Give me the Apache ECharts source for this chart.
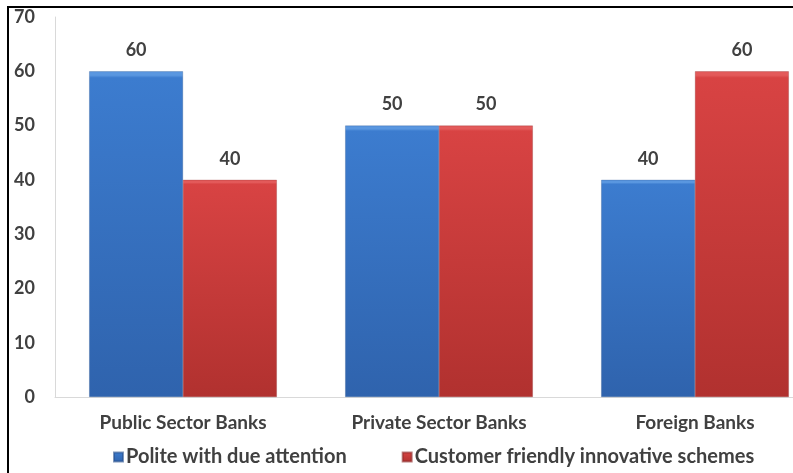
<!DOCTYPE html>
<html>
<head>
<meta charset="utf-8">
<script src="https://cdn.jsdelivr.net/npm/echarts@6/dist/echarts.min.js"></script>
<style>
html,body{margin:0;padding:0;background:#fff;overflow:hidden;width:793px;height:473px;}
#c{width:823px;height:473px;}
</style>
</head>
<body>
<div id="c"></div>
<script>
var categories = ["Public Sector Banks", "Private Sector Banks", "Foreign Banks"];
var seriesNames = ["Polite with due attention", "Customer friendly innovative schemes"];
var politeValues = [60, 50, 40];
var customerValues = [40, 50, 60];
var yTicks = [0, 10, 20, 30, 40, 50, 60, 70];

var chart = echarts.init(document.getElementById('c'), null, {renderer: 'canvas'});
var FONT = 'Lato';
var TXT = '#404040';
function grad(top, bottom) {
  return new echarts.graphic.LinearGradient(0, 0, 0, 1, [
    {offset: 0, color: top}, {offset: 0.012, color: top}, {offset: 0.02, color: bottom[0]}, {offset: 1, color: bottom[1]}
  ]);
}
var blue = grad('#5a97e0', ['#3c7ccf', '#2f63ad']);
var red = grad('#e35a5a', ['#d84343', '#b1312f']);
chart.setOption({
  backgroundColor: '#fff',
  animation: false,
  grid: {left: 55, right: 0, top: 17, bottom: 76, containLabel: false},
  xAxis: {
    type: 'category',
    data: categories,
    axisLine: {show: true, lineStyle: {color: '#d9d9d9', width: 1}},
    axisTick: {show: false},
    axisLabel: {color: TXT, fontFamily: FONT, fontWeight: 'bold', fontSize: 19, margin: 16}
  },
  yAxis: {
    type: 'value',
    min: yTicks[0],
    max: yTicks[yTicks.length - 1],
    interval: 10,
    splitLine: {show: false},
    axisLine: {show: true, lineStyle: {color: '#d9d9d9', width: 1}},
    axisTick: {show: false},
    axisLabel: {color: TXT, fontFamily: FONT, fontWeight: 'bold', fontSize: 18, margin: 20}
  },
  legend: {
    left: 108,
    top: 442,
    itemWidth: 9,
    itemHeight: 9,
    itemGap: 55,
    icon: 'rect',
    textStyle: {color: TXT, fontFamily: FONT, fontWeight: 'bold', fontSize: 20, padding: [0, 0, 0, -2]},
    data: seriesNames
  },
  series: [
    {
      name: seriesNames[0], type: 'bar', data: politeValues,
      barGap: '0%', barCategoryGap: '26.7%',
      itemStyle: {color: blue, borderColor: 'rgba(40,80,140,0.6)', borderWidth: 0.5},
      label: {show: true, position: 'top', distance: 12, color: TXT, fontFamily: FONT, fontWeight: 'bold', fontSize: 18}
    },
    {
      name: seriesNames[1], type: 'bar', data: customerValues,
      itemStyle: {color: red, borderColor: 'rgba(140,40,40,0.6)', borderWidth: 0.5},
      label: {show: true, position: 'top', distance: 12, color: TXT, fontFamily: FONT, fontWeight: 'bold', fontSize: 18}
    }
  ],
  graphic: [
    {type: 'line', shape: {x1: 7, y1: 7, x2: 823, y2: 7}, style: {stroke: '#000', lineWidth: 2}},
    {type: 'line', shape: {x1: 8, y1: 7, x2: 8, y2: 473}, style: {stroke: '#000', lineWidth: 2}}
  ]
});
</script>
</body>
</html>
